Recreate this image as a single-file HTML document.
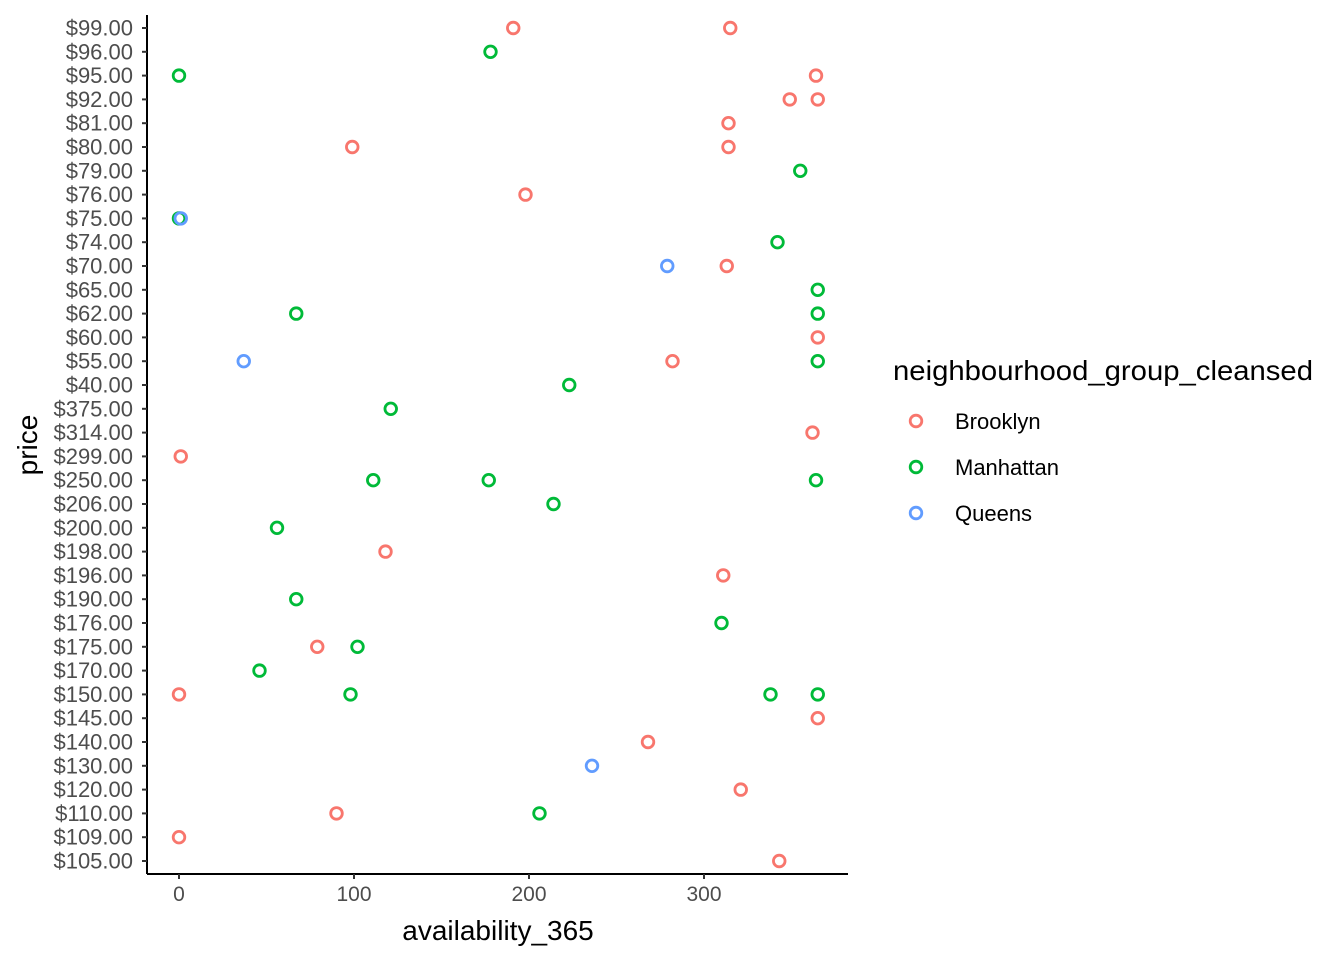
<!DOCTYPE html>
<html><head><meta charset="utf-8"><style>
html,body{margin:0;padding:0;background:#fff;}
svg{display:block;font-family:"Liberation Sans",Arial,sans-serif;}
</style></head><body>
<svg id="chart" width="1344" height="960" viewBox="0 0 1344 960">
<g id="grid"></g>
<g id="axes"></g>
<g id="points"></g>
<text x="498" y="940" font-size="28" text-anchor="middle" fill="#000">availability_365</text>
<text transform="translate(37,445) rotate(-90)" font-size="28" text-anchor="middle" fill="#000">price</text>
<g>
<text x="893" y="380" font-size="28" textLength="420" lengthAdjust="spacingAndGlyphs" fill="#000">neighbourhood_group_cleansed</text>
<g id="legend-items"></g>
</g>
</svg>
<script>
const categories=["$105.00","$109.00","$110.00","$120.00","$130.00","$140.00","$145.00","$150.00","$170.00","$175.00","$176.00","$190.00","$196.00","$198.00","$200.00","$206.00","$250.00","$299.00","$314.00","$375.00","$40.00","$55.00","$60.00","$62.00","$65.00","$70.00","$74.00","$75.00","$76.00","$79.00","$80.00","$81.00","$92.00","$95.00","$96.00","$99.00"];
const groups=["Brooklyn","Manhattan","Queens"];
const groupColors=["#F8766D","#00BA38","#619CFF"];
const xTicks=[0,100,200,300];
const brooklynPrice=["$99.00","$99.00","$95.00","$92.00","$92.00","$81.00","$80.00","$80.00","$76.00","$70.00","$60.00","$55.00","$314.00","$299.00","$198.00","$196.00","$175.00","$150.00","$145.00","$140.00","$120.00","$110.00","$109.00","$105.00"];
const brooklynAvail=[191,315,364,349,365,314,99,314,198,313,365,282,362,1,118,311,79,0,365,268,321,90,0,343];
const manhattanPrice=["$96.00","$95.00","$79.00","$75.00","$74.00","$65.00","$62.00","$62.00","$55.00","$40.00","$375.00","$250.00","$250.00","$250.00","$206.00","$200.00","$190.00","$176.00","$175.00","$170.00","$150.00","$150.00","$150.00","$110.00"];
const manhattanAvail=[178,0,355,0,342,365,67,365,365,223,121,111,177,364,214,56,67,310,102,46,98,338,365,206];
const queensPrice=["$75.00","$70.00","$55.00","$130.00"];
const queensAvail=[1,279,37,236];

const NS="http://www.w3.org/2000/svg";
const L=147,R=848,T=15,B=874;
function xs(v){return 179+v*1.75;}
function ys(c){const i=categories.indexOf(c);return 861-i*(861-28)/(categories.length-1);}
function mk(tag,attrs,parent){const e=document.createElementNS(NS,tag);for(const k in attrs)e.setAttribute(k,attrs[k]);parent.appendChild(e);return e;}
const axes=document.getElementById('axes');
let a=mk('line',{x1:L,y1:T,x2:L,y2:B,stroke:'#000','stroke-width':2},axes);


a=mk('line',{x1:L,y1:B,x2:R,y2:B,stroke:'#000','stroke-width':2},axes);


categories.forEach(c=>{const y=ys(c);
 mk('line',{x1:L-5,y1:y,x2:L,y2:y,stroke:'#333','stroke-width':2},axes);
 const t=mk('text',{x:L-14,y:y+7.5,'font-size':22,'text-anchor':'end',fill:'#4d4d4d'},axes);
 t.textContent=c;
 
 
});
xTicks.forEach(v=>{const x=xs(v);
 mk('line',{x1:x,y1:B,x2:x,y2:B+5,stroke:'#333','stroke-width':2},axes);
 const t=mk('text',{x:x,y:B+27,'font-size':21,'text-anchor':'middle',fill:'#4d4d4d'},axes);
 t.textContent=v;
 
 
});
const pts=document.getElementById('points');
const series=[[brooklynPrice,brooklynAvail],[manhattanPrice,manhattanAvail],[queensPrice,queensAvail]];
series.forEach((s,gi)=>{s[0].forEach((p,i)=>{
 const c=mk('circle',{cx:xs(s[1][i]),cy:ys(p),r:5.8,fill:'none',stroke:groupColors[gi],'stroke-width':2.8},pts);
 
 
});});
const li=document.getElementById('legend-items');
groups.forEach((g,i)=>{const y=421+i*46;
 const c=mk('circle',{cx:916,cy:y,r:5.8,fill:'none',stroke:groupColors[i],'stroke-width':2.8},li);
 
 
 const t=mk('text',{x:955,y:y+8,'font-size':22,fill:'#000'},li);
 t.textContent=g;
 
 
});
</script>
</body></html>
